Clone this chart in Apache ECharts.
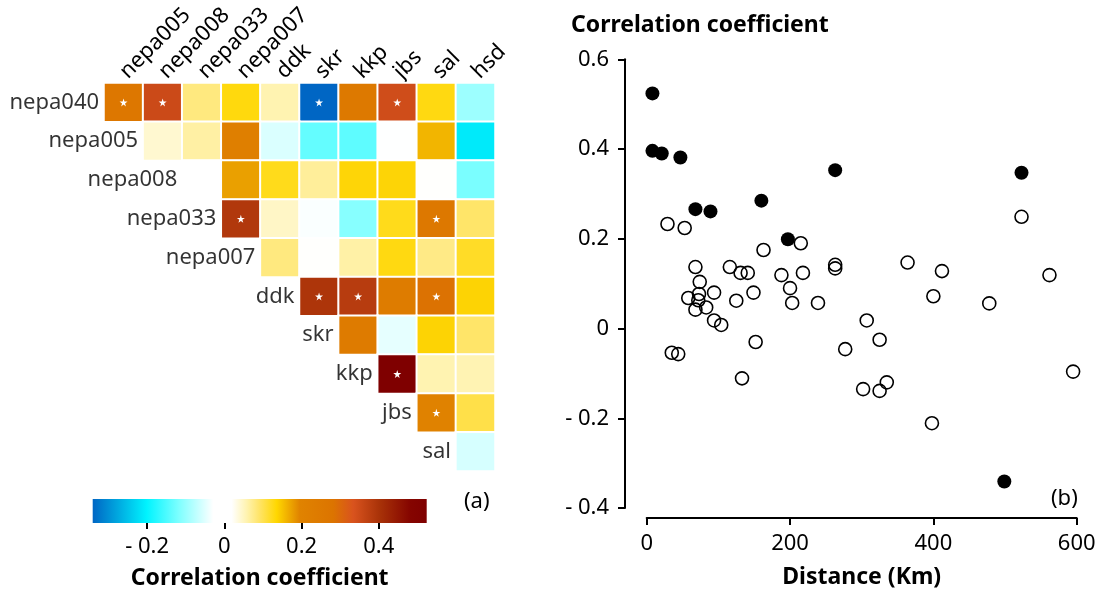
<!DOCTYPE html>
<html>
<head>
<meta charset="utf-8">
<script src="https://cdn.jsdelivr.net/npm/echarts@6/dist/echarts.min.js"></script>
<style>html,body{margin:0;padding:0;background:#fff}#main{width:1101px;height:594px}</style>
</head>
<body>
<div id="main"></div>
<script>
// heatmap: upper triangle, row i starts at column i
const rowNames = ['nepa040','nepa005','nepa008','nepa033','nepa007','ddk','skr','kkp','jbs','sal'];
const colNames = ['nepa005','nepa008','nepa033','nepa007','ddk','skr','kkp','jbs','sal','hsd'];
const rowValues = [
  [0.266, 0.353, 0.08, 0.13, 0.057, -0.341, 0.249, 0.347, 0.128, -0.096],
  [0.042, 0.063, 0.215, -0.054, -0.135, -0.139, -0.025, 0.16, -0.211],
  [0.008, 0.175, 0.124, 0.068, 0.135, 0.136, 0.018, -0.12],
  [0.39, 0.047, -0.03, -0.111, 0.124, 0.261, 0.09],
  [0.08, 0.018, 0.062, 0.128, 0.077, 0.119],
  [0.396, 0.381, 0.233, 0.285, 0.137],
  [0.24, -0.046, 0.137, 0.09],
  [0.524, 0.057, 0.056],
  [0.199, 0.104],
  [-0.057]
];
// significant pairs (white star)
const sigPairs = [
  ['nepa040','nepa005'], ['nepa040','nepa008'], ['nepa040','skr'], ['nepa040','jbs'],
  ['nepa033','nepa007'], ['nepa033','sal'],
  ['ddk','skr'], ['ddk','kkp'], ['ddk','sal'],
  ['kkp','jbs'], ['jbs','sal']
];
const cbMin = -0.341, cbMax = 0.524;
const cbTicks = [-0.2, 0, 0.2, 0.4];

// scatter (b): distance vs correlation
const sigDist = [8, 8, 21, 47, 68, 89, 160, 197, 263, 523, 499];
const sigCorr = [0.524, 0.396, 0.39, 0.381, 0.266, 0.261, 0.285, 0.199, 0.353, 0.347, -0.341];
const nsDist = [29, 53, 68, 116, 131, 141, 163, 188, 200, 215, 218, 74, 263, 263, 94, 149, 73, 58, 72, 68, 83, 125, 203, 239, 94, 104, 152, 35, 44, 133, 364, 412, 400, 307, 325, 277, 478, 595, 302, 325, 335, 398, 523, 562];
const nsCorr = [0.233, 0.224, 0.137, 0.137, 0.124, 0.124, 0.175, 0.119, 0.09, 0.19, 0.124, 0.104, 0.142, 0.134, 0.08, 0.08, 0.077, 0.068, 0.063, 0.042, 0.047, 0.062, 0.057, 0.057, 0.018, 0.008, -0.03, -0.054, -0.057, -0.111, 0.147, 0.128, 0.072, 0.018, -0.025, -0.046, 0.056, -0.096, -0.135, -0.139, -0.12, -0.211, 0.249, 0.119];

const cbStops = [[0,'#0066c4'],[0.162,'#00f4ff'],[0.26,'#80ffff'],[0.361,'#ffffff'],[0.416,'#ffffff'],
  [0.461,'#fff3b0'],[0.5,'#ffe466'],[0.551,'#ffd700'],[0.62,'#e08300'],[0.72,'#dc7400'],
  [0.78,'#d9531e'],[0.86,'#a83208'],[0.95,'#850500'],[1,'#7f0000']];

function hex2rgb(h){ return [1,3,5].map(i => parseInt(h.substr(i,2),16)); }
function sampleStops(n){
  const out = [];
  for (let k = 0; k < n; k++) {
    const t = k/(n-1);
    let j = 0;
    while (j < cbStops.length-2 && cbStops[j+1][0] < t) j++;
    const a = cbStops[j], b = cbStops[j+1];
    const f = (t - a[0])/(b[0] - a[0]);
    const ca = hex2rgb(a[1]), cb = hex2rgb(b[1]);
    out.push('rgb(' + ca.map((c,i) => Math.round(c + (cb[i]-c)*Math.max(0,Math.min(1,f)))).join(',') + ')');
  }
  return out;
}

const heatData = [];
rowValues.forEach((vals, i) => vals.forEach((v, k) => heatData.push([i + k, i, v])));
const starData = sigPairs.map(p => [colNames.indexOf(p[1]), rowNames.indexOf(p[0])]);
const rowLabelData = rowNames.map((r, i) => [i, i]);

const font = 'Noto Sans';
const txt = '#000';
const negFmt = v => { const r = Math.round(v*10)/10; return r < 0 ? '- ' + (-r) : String(r); };

const chart = echarts.init(document.getElementById('main'));
chart.setOption({
  animation: false,
  textStyle: { fontFamily: font, color: txt },
  title: [
    { text: 'Correlation coefficient', left: 566, top: 9, textStyle: { fontFamily: font, fontSize: 23, fontWeight: 'bold', color: txt } },
    { text: '(a)', left: 459, top: 486, textStyle: { fontFamily: font, fontSize: 22, fontWeight: 'normal', color: txt } },
    { text: '(b)', left: 1046, top: 483, textStyle: { fontFamily: font, fontSize: 22, fontWeight: 'normal', color: txt } }
  ],
  grid: [
    { left: 104, top: 83, width: 391, height: 388 },
    { left: 646.7, top: 59.3, width: 430, height: 449.7 },
    { left: 92.7, top: 499, width: 334, height: 24 }
  ],
  xAxis: [
    { gridIndex: 0, type: 'category', data: colNames, position: 'top',
      axisLine: { show: false }, axisTick: { show: false },
      axisLabel: { interval: 0, rotate: -45, fontSize: 22, margin: 8, color: txt } },
    { gridIndex: 1, type: 'value', min: 0, max: 600, interval: 200, offset: 10,
      splitLine: { show: false },
      axisLine: { onZero: false, lineStyle: { color: '#000', width: 2 } },
      axisTick: { length: 7, lineStyle: { color: '#000', width: 2 } },
      axisLabel: { fontSize: 22, margin: 15, color: txt },
      name: 'Distance (Km)', nameLocation: 'middle', nameGap: 48,
      nameTextStyle: { fontSize: 23, fontWeight: 'bold', color: txt } },
    { gridIndex: 2, type: 'value', min: cbMin, max: cbMax,
      splitLine: { show: false }, axisLine: { show: false },
      axisTick: { length: 6, customValues: cbTicks, lineStyle: { color: '#000', width: 2 } },
      axisLabel: { customValues: cbTicks, fontSize: 22, margin: 13, color: txt, formatter: negFmt },
      name: 'Correlation coefficient', nameLocation: 'middle', nameGap: 44,
      nameTextStyle: { fontSize: 23, fontWeight: 'bold', color: txt } }
  ],
  yAxis: [
    { gridIndex: 0, type: 'category', data: rowNames, inverse: true,
      axisLine: { show: false }, axisTick: { show: false }, axisLabel: { show: false } },
    { gridIndex: 1, type: 'value', min: -0.4, max: 0.6, interval: 0.2, offset: 21.7,
      splitLine: { show: false },
      axisLine: { onZero: false, lineStyle: { color: '#000', width: 2 } },
      axisTick: { length: 7, lineStyle: { color: '#000', width: 2 } },
      axisLabel: { fontSize: 22, margin: 16, color: txt, formatter: negFmt } },
    { gridIndex: 2, type: 'value', min: 0, max: 1, show: false }
  ],
  visualMap: {
    type: 'continuous', show: false, seriesIndex: 0, dimension: 2,
    min: cbMin, max: cbMax, inRange: { color: sampleStops(80) }
  },
  series: [
    { type: 'heatmap', xAxisIndex: 0, yAxisIndex: 0, data: heatData,
      itemStyle: { borderColor: '#fff', borderWidth: 2 } },
    { type: 'scatter', xAxisIndex: 0, yAxisIndex: 0, data: starData, silent: true,
      symbol: 'path://M50,0 L61,35 L98,35 L68,57 L79,91 L50,70 L21,91 L32,57 L2,35 L39,35 Z',
      symbolSize: 8, itemStyle: { color: '#fff', opacity: 1 } },
    { type: 'scatter', xAxisIndex: 0, yAxisIndex: 0, data: rowLabelData, silent: true,
      symbolSize: 1, itemStyle: { color: 'rgba(0,0,0,0)' },
      label: { show: true, position: 'left', distance: 24, fontSize: 22, color: txt,
        formatter: p => rowNames[p.data[1]] } },
    { type: 'scatter', xAxisIndex: 1, yAxisIndex: 1, symbolSize: 13,
      data: nsDist.map((d, i) => [d, nsCorr[i]]),
      itemStyle: { color: 'rgba(255,255,255,0)', borderColor: '#000', borderWidth: 1.6, opacity: 1 } },
    { type: 'scatter', xAxisIndex: 1, yAxisIndex: 1, symbolSize: 14,
      data: sigDist.map((d, i) => [d, sigCorr[i]]),
      itemStyle: { color: '#000', opacity: 1 } },
    { type: 'custom', xAxisIndex: 2, yAxisIndex: 2, data: [[cbMin, cbMax]], silent: true,
      renderItem: (params, api) => {
        const p0 = api.coord([api.value(0), 0]);
        const p1 = api.coord([api.value(1), 1]);
        return { type: 'rect',
          shape: { x: p0[0], y: p1[1], width: p1[0] - p0[0], height: p0[1] - p1[1] },
          style: { fill: new echarts.graphic.LinearGradient(0, 0, 1, 0,
            cbStops.map(s => ({ offset: s[0], color: s[1] }))) } };
      } }
  ]
});
</script>
</body>
</html>
